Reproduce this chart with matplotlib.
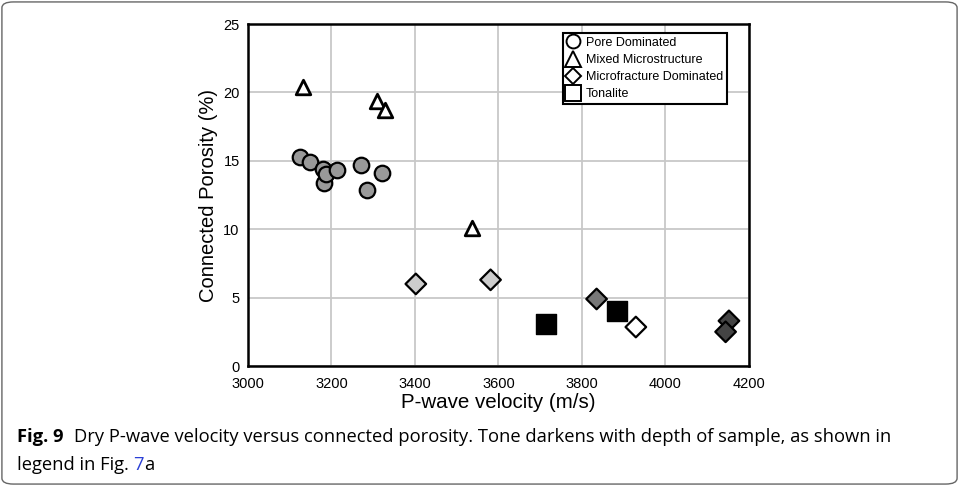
import matplotlib
matplotlib.use("Agg")
import matplotlib.pyplot as plt
from matplotlib.patches import FancyBboxPatch
from matplotlib.lines import Line2D

# data
pore_v = [3124, 3148, 3179, 3183, 3186, 3212, 3271, 3285, 3320]
pore_phi = [15.3, 14.9, 14.4, 13.4, 14.0, 14.3, 14.7, 12.9, 14.1]

mixed_v = [3132, 3308, 3328, 3537]
mixed_phi = [20.4, 19.4, 18.7, 10.1]

frac_v = [3402, 3581, 3835, 3929, 4152, 4144]
frac_phi = [6.0, 6.3, 4.9, 2.85, 3.3, 2.5]
frac_col = ['#cccccc', '#cccccc', '#777777', '#ffffff', '#444444', '#444444']

ton_v = [3715, 3885]
ton_phi = [3.1, 4.0]

legend_labels = ['Pore Dominated', 'Mixed Microstructure',
                 'Microfracture Dominated', 'Tonalite']

plt.rcParams['font.family'] = ['Liberation Sans', 'DejaVu Sans']

fig = plt.figure(figsize=(9.59, 4.86), dpi=100)
ax = fig.add_axes([0.2586, 0.2469, 0.5224, 0.7037])

ax.scatter(pore_v, pore_phi, s=125, marker='o', c='#999999',
           edgecolors='black', linewidths=1.6, zorder=3)
ax.scatter(mixed_v, mixed_phi, s=110, marker='^', c='white',
           edgecolors='black', linewidths=2.0, zorder=3)
ax.scatter(frac_v, frac_phi, s=110, marker='D', c=frac_col,
           edgecolors='black', linewidths=1.6, zorder=3)
ax.scatter(ton_v, ton_phi, s=190, marker='s', c='black',
           edgecolors='black', linewidths=1.0, zorder=3)

ax.set_xlim(3000, 4200)
ax.set_ylim(0, 25)
ax.set_xticks([3000, 3200, 3400, 3600, 3800, 4000, 4200])
ax.set_yticks([0, 5, 10, 15, 20, 25])
ax.tick_params(axis='x', length=0, labelsize=10.5, pad=8)
ax.tick_params(axis='y', length=0, labelsize=10.5, pad=6)
ax.grid(True, color='#c8c8c8', linewidth=1.3)
ax.set_axisbelow(True)
for sp in ax.spines.values():
    sp.set_linewidth(1.8)

ax.set_xlabel('P-wave velocity (m/s)', fontsize=14.8, labelpad=1)
ax.set_ylabel('Connected Porosity (%)', fontsize=14.5, labelpad=4)

handles = [
    Line2D([], [], marker='o', ls='none', mfc='white', mec='black', ms=10, mew=1.4),
    Line2D([], [], marker='^', ls='none', mfc='white', mec='black', ms=11, mew=1.4),
    Line2D([], [], marker='D', ls='none', mfc='white', mec='black', ms=8, mew=1.4),
    Line2D([], [], marker='s', ls='none', mfc='white', mec='black', ms=11, mew=1.4),
]
leg = ax.legend(handles, legend_labels, loc='upper right',
                bbox_to_anchor=(0.963, 0.985), fontsize=9, frameon=True,
                fancybox=False, edgecolor='black', framealpha=1,
                handlelength=0.9, handletextpad=0.6, labelspacing=0.42,
                borderpad=0.3, borderaxespad=0.3)
leg.get_frame().set_linewidth(1.5)

# figure frame
frame = FancyBboxPatch((0.002, 0.004), 0.996, 0.992, transform=fig.transFigure,
                       boxstyle='round,pad=0,rounding_size=0.012',
                       fc='none', ec='#666666', lw=1.0)
fig.patches.append(frame)

# caption
cap_font = ['Open Sans', 'DejaVu Sans']
fs = 13.2
y1 = 1 - 437 / 486
y2 = 1 - 465 / 486
fig.canvas.draw()
r = fig.canvas.get_renderer()
t1 = fig.text(17 / 959, y1, 'Fig. 9', fontsize=fs, fontweight='bold',
              family=cap_font, va='center')
bb = t1.get_window_extent(renderer=r)
x2 = (bb.x1 + 10) / fig.bbox.width
fig.text(x2, y1,
         'Dry P-wave velocity versus connected porosity. Tone darkens with depth of sample, as shown in',
         fontsize=fs, family=cap_font, va='center')
t3 = fig.text(17 / 959, y2, 'legend in Fig. ', fontsize=fs,
              family=cap_font, va='center')
bb3 = t3.get_window_extent(renderer=r)
t4 = fig.text(bb3.x1 / fig.bbox.width, y2, '7', fontsize=fs,
              family=cap_font, va='center', color='#2a3fd6')
bb4 = t4.get_window_extent(renderer=r)
fig.text(bb4.x1 / fig.bbox.width, y2, 'a', fontsize=fs,
         family=cap_font, va='center')

fig.savefig('out.png', dpi=100)
